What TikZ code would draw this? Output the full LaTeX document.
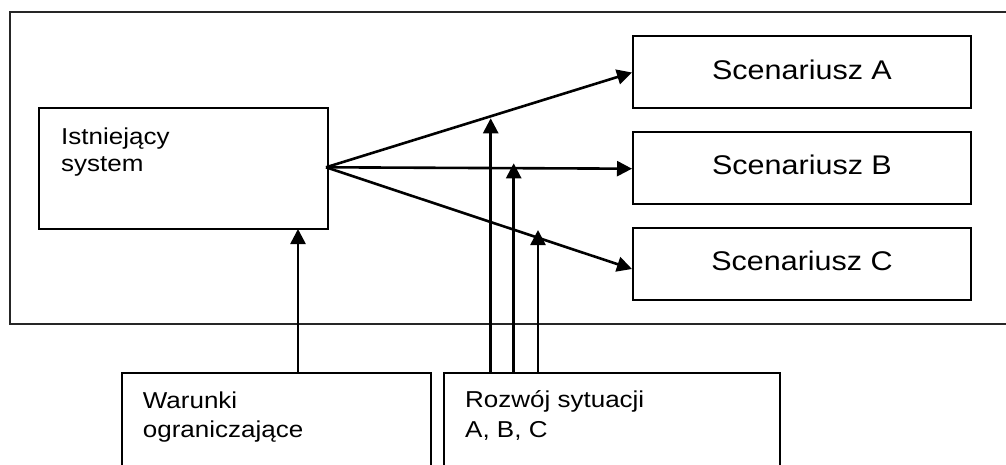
\documentclass[tikz,border=0pt]{standalone}
\usepackage{fontspec}
\setmainfont{Liberation Sans}
\usetikzlibrary{arrows.meta}
\newcommand{\widetxt}[1]{\scalebox{1.13}[1]{#1}}
\begin{document}
\begin{tikzpicture}[x=1pt,y=-1pt,
  boxline/.style={draw=black,line width=2pt},
  scenbox/.style={boxline,minimum width=338pt,minimum height=72pt,
    inner sep=0pt,text depth=5.7pt,font=\fontsize{27}{32}\selectfont},
  smalltext/.style={anchor=base west,inner sep=0pt,font=\fontsize{23}{28}\selectfont},
  flow/.style={line width=2.6pt,-{Triangle[length=15pt,width=15pt]}}]
\useasboundingbox (0,0) rectangle (1006,465);
\clip (0,0) rectangle (1006,465);

% outer frame (right edge lies outside the page)
\draw[line width=2pt,draw=black!85] (10,12) rectangle (1030,324);

% existing system
\node[boxline,minimum width=289pt,minimum height=121pt,inner sep=0pt]
  (sys) at (183.5,168.5) {};
\node[smalltext] (sysA) at (61,144.3) {\widetxt{Istniejący}};
\node[smalltext] (sysB) at (61,171.7) {\widetxt{system}};

% scenarios
\node[scenbox] (scA) at (802,72.5) {\widetxt{Scenariusz A}};
\node[scenbox] (scB) at (802,168) {\widetxt{Scenariusz B}};
\node[scenbox] (scC) at (802,264) {\widetxt{Scenariusz C}};

% lower boxes, running past the bottom edge
\draw[boxline] (121.7,480) |- (430.7,372.7) coordinate (warNE) -- (430.7,480);
\coordinate (war) at (276,372.7);
\draw[boxline] (444,480) |- (780,372.7) coordinate (rozNE) -- (780,480);
\coordinate (roz) at (612,372.7);
\node[smalltext] (warA) at (142.7,408.3) {\widetxt{Warunki}};
\node[smalltext] (warB) at (142.7,437.3) {\widetxt{ograniczające}};
\node[smalltext] (rozA) at (465,407.8) {\widetxt{Rozwój sytuacji}};
\node[smalltext] (rozB) at (465,437.3) {\widetxt{A, B, C}};

% arrows from the existing system to the scenarios
\coordinate (src) at (326,167.3);
\draw[flow] (src) -- (scA.west);
\draw[flow] (src) -- ([yshift=-0.7pt]scB.west);
\draw[flow] (src) -- ([yshift=-5pt]scC.west);

% influences from below
\coordinate (tW) at (298,229);
\coordinate (tA) at (490.7,118.3);
\coordinate (tB) at (513.7,163.3);
\coordinate (tC) at (538,230);
\draw[flow] (war -| tW) -- (tW);
\draw[flow] (roz -| tA) -- (tA);
\draw[flow] (roz -| tB) -- (tB);
\draw[flow] (roz -| tC) -- (tC);
\end{tikzpicture}
\end{document}
